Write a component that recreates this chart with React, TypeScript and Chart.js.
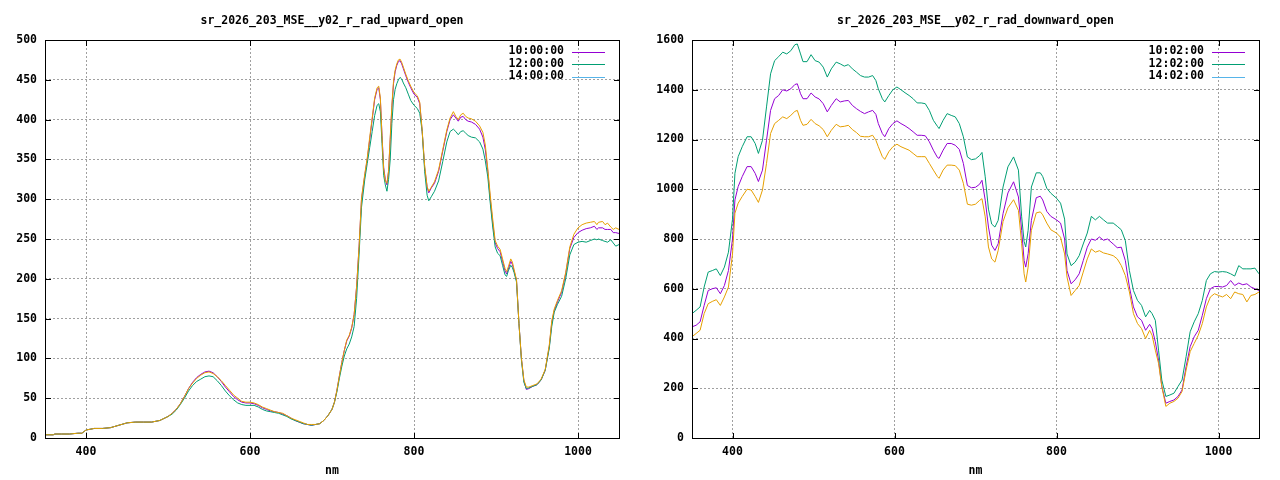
import React, { useEffect, useRef } from "react";
import { Chart, registerables } from "chart.js";

Chart.register(...registerables);

// ---------- data: upward (left panel) ----------
const upNm = [
  350, 360, 362, 370, 380, 390, 395, 400, 405, 410,
  420, 430, 440, 450, 460, 470, 480, 490, 500, 505,
  510, 515, 520, 525, 530, 535, 540, 545, 550, 555,
  560, 565, 570, 575, 580, 585, 590, 595, 600, 605,
  610, 615, 620, 625, 630, 635, 640, 645, 650, 655,
  660, 665, 670, 675, 680, 685, 690, 695, 700, 703,
  706, 709, 712, 715, 718, 721, 724, 727, 730, 733,
  736, 740, 743, 746, 749, 752, 755, 757, 759, 761,
  763, 765, 767, 769, 771, 773, 775, 777, 779, 781,
  783, 785, 787, 790, 793, 796, 800, 804, 807, 810,
  813, 816, 818, 821, 825, 830, 835, 840, 844, 848,
  851, 854, 857, 860, 863, 866, 870, 875, 880, 884,
  887, 890, 893, 896, 899, 902, 905, 908, 911, 913,
  915, 918, 920, 922, 925, 928, 931, 934, 937, 940,
  945, 950, 955, 960, 965, 968, 971, 975, 980, 985,
  990, 995, 1000, 1005, 1010, 1015, 1020, 1023, 1025, 1030,
  1033, 1036, 1040, 1043, 1046, 1050,
];
const up1000 = [
  4, 4, 5, 5, 5, 6, 6, 10, 11, 12,
  12, 13, 16, 19, 20, 20, 20, 22, 27, 31,
  36, 43, 52, 62, 70, 76, 80, 83, 84, 82,
  77, 71, 64, 58, 52, 48, 45, 44, 44, 43,
  41, 38, 36, 34, 33, 32, 30, 28, 25, 22,
  20, 18, 17, 16, 17, 18, 22, 28, 36, 45,
  60, 78, 95, 110, 122, 128, 138, 155, 190, 240,
  300, 330, 350, 375, 400, 425, 438, 440, 425, 380,
  340, 325, 318, 335, 375, 415, 445, 460, 468, 473,
  474, 470, 464, 455, 447, 440, 432, 428, 420, 385,
  340, 315, 308, 314, 320, 335, 360, 385, 400, 406,
  402, 398, 403, 404, 400, 398, 397, 394, 388, 378,
  362, 335, 300, 270, 245, 238, 234, 222, 210, 206,
  212, 222, 218, 210, 198, 144, 100, 72, 61, 62,
  65, 67, 73, 85, 115, 145, 160, 171, 183, 206,
  238, 252, 258, 261, 263, 264, 266, 262, 264, 264,
  262, 262, 262, 258, 258, 257,
];
const up1200 = [
  4, 4, 5, 5, 5, 6, 6, 10, 11, 12,
  12, 13, 16, 19, 20, 20, 20, 22, 27, 30,
  35, 42, 50, 59, 66, 71, 74, 77, 78, 77,
  72, 66, 59, 53, 48, 44, 42, 41, 41, 41,
  39, 36, 34, 33, 32, 31, 29, 27, 24, 22,
  20, 18, 17, 16, 17, 18, 22, 28, 36, 45,
  58, 75, 90, 103, 112, 118, 127, 140, 175, 230,
  290, 325, 345, 365, 385, 405, 418, 420, 410, 370,
  330, 318, 310, 325, 350, 395, 425, 438, 445, 450,
  453, 451, 446, 440, 432, 424, 418, 414, 408, 385,
  335, 305, 298, 303, 310, 323, 347, 372, 385, 388,
  385, 381, 385, 386, 383, 380, 378, 377, 372, 363,
  348, 328, 295, 265, 240, 232, 229, 217, 205, 203,
  210, 217, 214, 208, 196, 144, 98, 70, 62, 63,
  65, 67, 73, 85, 113, 140, 158, 168, 178, 200,
  230, 243, 246, 247, 246, 248, 250, 249, 250, 248,
  247, 246, 249, 245, 241, 243,
];
const up1400 = [
  4, 4, 5, 5, 5, 6, 6, 10, 11, 12,
  12, 13, 16, 19, 20, 20, 20, 22, 27, 31,
  36, 43, 52, 62, 69, 75, 79, 82, 83, 81,
  77, 72, 66, 60, 54, 50, 46, 45, 45, 44,
  42, 39, 37, 35, 33, 32, 31, 28, 25, 23,
  21, 19, 17, 17, 17, 18, 22, 28, 36, 45,
  60, 78, 95, 110, 123, 129, 139, 155, 190, 240,
  302, 332, 352, 378, 402, 427, 440, 442, 427, 378,
  338, 323, 320, 336, 378, 418, 448, 462, 470, 475,
  476, 472, 466, 457, 449, 442, 434, 430, 422, 386,
  342, 316, 310, 315, 322, 337, 362, 387, 402, 410,
  404, 400, 406, 408, 404, 402, 401, 398, 392, 384,
  368, 338, 305, 275, 248, 241, 237, 225, 213, 209,
  215, 225, 221, 212, 199, 144, 100, 73, 64, 64,
  66, 68, 74, 86, 117, 147, 162, 173, 185, 208,
  240, 256, 264, 268, 270, 271, 272, 268, 271, 272,
  268, 270, 265, 262, 264, 262,
];
const upLabels = ["10:00:00", "12:00:00", "14:00:00"];
const upTitle = "sr_2026_203_MSE__y02_r_rad_upward_open";
const upYTicks = [0, 50, 100, 150, 200, 250, 300, 350, 400, 450, 500];

// ---------- data: downward (right panel) ----------
const downNm = [
  350, 355, 360, 365, 370, 375, 380, 385, 390, 395,
  400, 403, 407, 412, 418, 423, 428, 432, 437, 442,
  447, 452, 457, 462, 467, 472, 477, 480, 484, 487,
  492, 497, 502, 507, 512, 517, 522, 528, 533, 538,
  543, 548, 553, 558, 563, 568, 573, 577, 580, 585,
  588, 593, 598, 603, 608, 613, 618, 623, 628, 633,
  638, 643, 648, 653, 655, 660, 665, 670, 675, 680,
  685, 690, 695, 700, 705, 708, 712, 716, 720, 724,
  728, 734, 740, 747, 753, 757, 760, 762, 765, 769,
  775, 780, 783, 788, 793, 800, 805, 810, 813, 818,
  823, 828, 833, 838, 843, 848, 853, 858, 863, 870,
  875, 880, 885, 890, 895, 900, 905, 910, 915, 918,
  922, 926, 930, 935, 940, 945, 950, 955, 960, 965,
  970, 975, 980, 985, 990, 995, 1000, 1005, 1010, 1015,
  1020, 1025, 1030, 1035, 1040, 1045, 1050,
];
const down1002 = [
  447, 453, 467, 533, 593, 600, 604, 580, 613, 673,
  800, 957, 1011, 1051, 1091, 1091, 1064, 1031, 1077, 1197,
  1317, 1364, 1377, 1400, 1395, 1404, 1421, 1424, 1384, 1364,
  1364, 1387, 1371, 1363, 1344, 1311, 1337, 1364, 1351, 1355,
  1357, 1337, 1324, 1313, 1304, 1311, 1317, 1301, 1264, 1224,
  1211, 1244, 1264, 1275, 1264, 1255, 1244, 1231, 1217, 1217,
  1215, 1191, 1157, 1128, 1124, 1157, 1184, 1184, 1177, 1160,
  1104, 1015, 1006, 1008, 1020, 1036, 956, 848, 775, 754,
  781, 902, 985, 1030, 969, 835, 714, 687, 741, 875,
  966, 972, 957, 911, 891, 877, 864, 800, 673, 620,
  636, 660, 713, 767, 800, 795, 808, 795, 800, 780,
  765, 767, 713, 607, 527, 487, 473, 433, 457, 440,
  387, 313, 207, 140, 147, 153, 167, 193, 287, 367,
  407, 433, 493, 560, 600, 609, 609, 607, 613, 633,
  613, 623, 616, 620, 607, 600, 593,
];
const down1202 = [
  500, 513, 527, 607, 667, 673, 680, 653, 687, 747,
  880, 1064, 1131, 1171, 1211, 1211, 1184, 1144, 1197, 1331,
  1464, 1517, 1533, 1551, 1544, 1557, 1581, 1584, 1544, 1513,
  1513, 1541, 1517, 1511, 1491, 1451, 1484, 1511, 1504, 1495,
  1501, 1484, 1471, 1457, 1451, 1451, 1457, 1437, 1404, 1364,
  1351, 1377, 1400, 1411, 1400, 1388, 1377, 1364, 1347, 1347,
  1344, 1317, 1277, 1253, 1244, 1277, 1304, 1297, 1291, 1264,
  1211, 1130, 1119, 1122, 1135, 1148, 1050, 920, 860, 848,
  875, 1009, 1090, 1130, 1077, 889, 790, 768, 835, 1009,
  1066, 1066, 1051, 1004, 984, 964, 944, 880, 740, 693,
  707, 733, 780, 824, 891, 877, 891, 877, 864, 864,
  851, 837, 793, 673, 593, 553, 533, 487, 513, 500,
  473, 353, 233, 167, 173, 180, 207, 233, 327, 427,
  467, 500, 553, 633, 660, 669, 667, 669, 667, 660,
  651, 693, 680, 680, 680, 683, 660,
];
const down1402 = [
  407, 420, 433, 500, 540, 549, 556, 533, 567, 607,
  740, 904, 944, 971, 1000, 997, 971, 947, 997, 1104,
  1224, 1264, 1277, 1291, 1284, 1297, 1313, 1317, 1277, 1257,
  1261, 1281, 1264, 1255, 1240, 1211, 1237, 1261, 1251, 1253,
  1257, 1240, 1228, 1213, 1211, 1211, 1217, 1197, 1171, 1131,
  1120, 1151, 1171, 1181, 1171, 1164, 1157, 1144, 1131, 1131,
  1131, 1104, 1077, 1051, 1044, 1077, 1097, 1097, 1095, 1077,
  1024, 940, 936, 940, 955, 962, 889, 768, 720, 707,
  754, 870, 925, 958, 915, 781, 660, 627, 687, 835,
  905, 909, 897, 864, 837, 824, 807, 740, 647, 573,
  593, 613, 667, 720, 760, 747, 753, 744, 740, 733,
  720, 693, 653, 587, 500, 460, 440, 400, 433, 413,
  353, 300, 207, 127, 140, 147, 160, 187, 273, 347,
  380, 413, 460, 527, 567, 580, 573, 567, 577, 560,
  587, 580, 577, 547, 573, 577, 587,
];
const downLabels = ["10:02:00", "12:02:00", "14:02:00"];
const downTitle = "sr_2026_203_MSE__y02_r_rad_downward_open";
const downYTicks = [0, 200, 400, 600, 800, 1000, 1200, 1400, 1600];

const xTicks = [400, 600, 800, 1000];
const xLabel = "nm";

// ---------- styles ----------
const LINE_COLORS = ["#9400D3", "#009E73", "#E69F00"];
const KEY_COLORS = ["#9400D3", "#009E73", "#56B4E9"];
const FONT_FAMILY = '"DejaVu Sans Mono", "Liberation Mono", monospace';
const FONT_SIZE = 11.5;
const CSS_FONT = `bold ${FONT_SIZE}px ${FONT_FAMILY}`;

const gnuplotPlugin = {
  id: "gnu",
  afterDraw(chart: any, _args: any, opts: any) {
    const { ctx, chartArea: a } = chart;
    const xs = chart.scales.x;
    const ys = chart.scales.y;
    const L = Math.round(a.left);
    const R = Math.round(a.right);
    const T = Math.round(a.top);
    const B = Math.round(a.bottom);
    ctx.save();
    ctx.strokeStyle = "#000";
    ctx.lineWidth = 1;
    ctx.setLineDash([]);
    ctx.strokeRect(L + 0.5, T + 0.5, R - L, B - T);
    // inward tick marks
    ctx.beginPath();
    for (const v of opts.xTicks) {
      const px = Math.round(xs.getPixelForValue(v)) + 0.5;
      ctx.moveTo(px, B + 0.5);
      ctx.lineTo(px, B - 5);
      ctx.moveTo(px, T + 0.5);
      ctx.lineTo(px, T + 6);
    }
    for (const v of opts.yTicks) {
      const py = Math.round(ys.getPixelForValue(v)) + 0.5;
      ctx.moveTo(L + 0.5, py);
      ctx.lineTo(L + 6, py);
      ctx.moveTo(R + 0.5, py);
      ctx.lineTo(R - 5, py);
    }
    ctx.stroke();

    ctx.fillStyle = "#000";
    ctx.font = CSS_FONT;
    ctx.textBaseline = "middle";
    ctx.textAlign = "center";
    const cx = (a.left + a.right) / 2;
    ctx.fillText(opts.title, cx, 21);
    ctx.fillText(opts.xLabel, cx, 471);

    // key
    opts.labels.forEach((lab: string, i: number) => {
      const y = a.top + 11.5 + i * 12.5;
      ctx.textAlign = "right";
      ctx.fillStyle = "#000";
      ctx.fillText(lab, R - 55, y);
      ctx.strokeStyle = opts.keyColors[i];
      ctx.beginPath();
      const ly = Math.round(y) + 0.5;
      ctx.moveTo(R - 47, ly);
      ctx.lineTo(R - 14, ly);
      ctx.stroke();
    });
    ctx.restore();
  },
};

function makeConfig(
  title: string,
  nm: number[],
  series: number[][],
  labels: string[],
  yTicks: number[],
  yAxisWidth: number
): any {
  const tickFont = { family: FONT_FAMILY, size: FONT_SIZE, weight: "bold" as const };
  return {
    type: "line",
    data: {
      datasets: series.map((s, i) => ({
        label: labels[i],
        data: nm.map((x, j) => ({ x, y: s[j] })),
        borderColor: LINE_COLORS[i],
        backgroundColor: LINE_COLORS[i],
        borderWidth: 1,
        pointRadius: 0,
        fill: false,
        tension: 0,
        order: 2 - i,
      })),
    },
    options: {
      animation: false,
      responsive: false,
      devicePixelRatio: 1,
      events: [],
      layout: { padding: { left: 0, right: 21, top: 40, bottom: 0 } },
      plugins: {
        legend: { display: false },
        title: { display: false },
        tooltip: { enabled: false },
        gnu: { title, xLabel, labels, keyColors: KEY_COLORS, xTicks, yTicks },
      },
      scales: {
        x: {
          type: "linear",
          min: 350,
          max: 1050,
          afterBuildTicks: (s: any) => {
            s.ticks = xTicks.map((v) => ({ value: v }));
          },
          afterFit: (s: any) => {
            s.height = 42;
          },
          grid: { color: "#a0a0a0", lineWidth: 1, drawTicks: false },
          border: { display: false, dash: [2, 2] },
          ticks: {
            color: "#000",
            font: tickFont,
            padding: 7,
            maxRotation: 0,
            autoSkip: false,
            callback: (v: any) => String(v),
          },
        },
        y: {
          type: "linear",
          min: yTicks[0],
          max: yTicks[yTicks.length - 1],
          afterBuildTicks: (s: any) => {
            s.ticks = yTicks.map((v) => ({ value: v }));
          },
          afterFit: (s: any) => {
            s.width = yAxisWidth;
          },
          grid: { color: "#a0a0a0", lineWidth: 1, drawTicks: false },
          border: { display: false, dash: [2, 2] },
          ticks: {
            color: "#000",
            font: tickFont,
            padding: 8,
            autoSkip: false,
            callback: (v: any) => String(v),
          },
        },
      },
    },
    plugins: [gnuplotPlugin],
  };
}

export default function App() {
  const leftRef = useRef<HTMLCanvasElement | null>(null);
  const rightRef = useRef<HTMLCanvasElement | null>(null);

  useEffect(() => {
    const charts: Chart[] = [];
    if (leftRef.current) {
      charts.push(
        new Chart(
          leftRef.current,
          makeConfig(upTitle, upNm, [up1000, up1200, up1400], upLabels, upYTicks, 45)
        )
      );
    }
    if (rightRef.current) {
      charts.push(
        new Chart(
          rightRef.current,
          makeConfig(downTitle, downNm, [down1002, down1202, down1402], downLabels, downYTicks, 52)
        )
      );
    }
    return () => charts.forEach((c) => c.destroy());
  }, []);

  return (
    <div
      style={{
        position: "absolute",
        left: 0,
        top: 0,
        width: 1280,
        height: 480,
        display: "flex",
        background: "#fff",
      }}
    >
      <canvas ref={leftRef} width={640} height={480} style={{ display: "block", width: 640, height: 480 }} />
      <canvas ref={rightRef} width={640} height={480} style={{ display: "block", width: 640, height: 480 }} />
    </div>
  );
}
